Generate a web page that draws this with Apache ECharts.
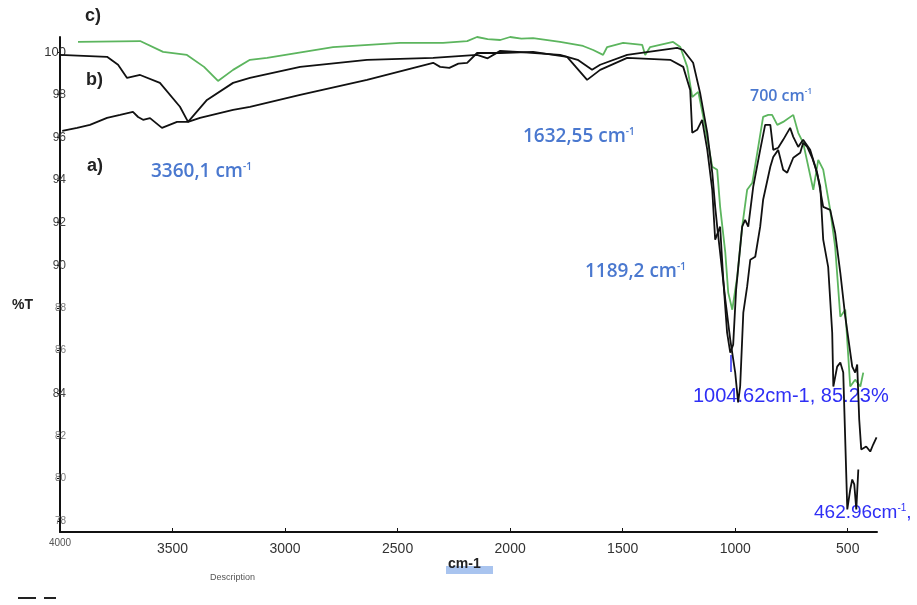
<!DOCTYPE html>
<html>
<head>
<meta charset="utf-8">
<script src="https://cdn.jsdelivr.net/npm/echarts@6/dist/echarts.min.js"></script>
<style>html,body{margin:0;padding:0;background:#fff}#chart{width:917px;height:605px}</style>
</head>
<body>
<div id="chart"></div>
<script>
// ---- data (wavenumber cm-1, %T) ----
const xTicks = [4000, 3500, 3000, 2500, 2000, 1500, 1000, 500];
const yTicks = [78, 80, 82, 84, 86, 88, 90, 92, 94, 96, 98, 100];

const wnA = [3990,3924,3867,3791,3733,3676,3653,3631,3600,3547,3480,3431,3378,3231,3156,2933,2636,2342,2311,2270,2230,2191,2147,2044,1898,1747,1658,1600,1480,1289,1231,1200,1191,1169,1147,1124,1102,1089,1067,1053,1036,1022,1009,996,969,956,942,920,889,867,844,831,809,787,756,742,720,698,667,644,622,609,587,569,564,547,533,520,502,489,480,471,462,453];
const tA  = [96.30,96.44,96.58,96.91,97.05,97.19,96.95,96.82,96.9,96.44,96.72,96.72,96.91,97.28,97.43,97.99,98.69,99.49,99.30,99.25,99.45,99.49,99.95,99.95,100,99.77,98.69,99.16,99.72,99.63,99.30,98.22,96.21,96.35,96.82,95.41,93.54,91.20,91.81,89.33,86.84,85.91,86.28,88.86,91.81,92.13,91.81,93.68,95.41,96.58,96.58,95.41,95.51,95.88,96.44,96.02,95.55,95.88,95.41,94.62,93.68,91.20,89.93,86.84,84.32,85.25,85.44,84.97,78.56,79.49,79.96,79.73,78.56,80.43];

const wnB = [4000,3791,3742,3702,3644,3556,3467,3431,3347,3231,3156,2933,2636,2342,2147,2100,2044,1969,1778,1700,1636,1600,1480,1258,1231,1187,1156,1124,1102,1089,1080,1067,1044,1022,1000,987,978,964,947,933,911,889,876,844,831,809,787,769,742,711,698,680,658,636,609,578,556,533,511,480,467,458,449,440,418,400,387,372];
const tB  = [99.86,99.77,99.40,98.78,98.92,98.55,97.43,96.72,97.75,98.55,98.78,99.30,99.63,99.72,99.86,99.7,100.05,100,99.86,99.63,99.16,99.40,99.86,100.19,100.09,99.49,98.08,96.21,94.34,92.74,91.81,90.59,88.39,86.52,84.97,83.57,84.32,87.78,89.00,90.26,90.40,91.81,93.07,94.62,95.08,95.41,94.48,94.34,95.04,95.27,95.74,95.55,95.04,94.34,92.74,92.60,91.53,89.65,87.59,85.25,84.97,85.35,82.77,81.37,81.51,81.27,81.60,81.93];

const wnC = [3920,3644,3542,3436,3360,3298,3231,3156,3080,2787,2489,2298,2191,2147,2100,2044,2000,1950,1898,1778,1676,1631,1587,1569,1498,1413,1400,1378,1276,1244,1213,1191,1164,1142,1102,1080,1067,1044,1031,1013,991,969,947,924,902,876,853,836,813,787,742,720,698,653,631,609,578,556,533,511,489,467,444,431];
const tC  = [100.47,100.51,100.0,99.86,99.3,98.64,99.16,99.63,99.72,100.23,100.42,100.42,100.51,100.7,100.6,100.56,100.7,100.62,100.65,100.47,100.28,100.09,99.86,100.23,100.42,100.33,99.86,100.23,100.47,100.23,99.30,97.89,98.13,96.96,94.62,94.48,92.74,90.59,88.72,87.92,89.47,91.81,93.54,93.87,95.27,96.96,97.05,97.05,96.58,96.72,97.05,96.21,95.74,93.54,94.94,94.48,92.60,90.87,87.59,87.92,84.32,84.64,84.32,84.97];

const zip = (xs, ys) => xs.map((x, i) => [x, ys[i]]);

const chart = echarts.init(document.getElementById('chart'), null, {renderer: 'canvas'});
const blue1 = '#4a78cf';
const blue2 = '#2f2ff5';
const FONT = 'Liberation Sans, Arial, sans-serif';
const OFONT = 'Open Sans, sans-serif';

function sup(main, s, size, color, font, weight, tail) {
  const sm = Math.round(size * 0.5);
  return {
    text: '{m|' + main + '}{s|' + s + '}' + (tail ? '{m|' + tail + '}' : ''),
    verticalAlign: 'middle',
    rich: {
      m: {fontSize: size, fontFamily: font, fontWeight: weight, fill: color},
      s: {fontSize: sm, fontFamily: font, fontWeight: weight, fill: color, verticalAlign: 'top', lineHeight: size}
    }
  };
}

function lbl(x, y, style) { return {type: 'text', x: x, y: y, style: style}; }

const option = {
  animation: false,
  backgroundColor: '#ffffff',
  grid: {left: 60, right: 40, top: 37, bottom: 73},
  xAxis: {
    type: 'value', inverse: true, min: 370, max: 4000,
    axisLine: {show: true, lineStyle: {color: '#111', width: 2}},
    axisTick: {show: true, customValues: xTicks, length: 4, inside: true, lineStyle: {color: '#111'}},
    splitLine: {show: false},
    axisLabel: {
      customValues: xTicks, margin: 6,
      formatter: v => v === 4000 ? '{s|' + v + '}' : '{n|' + v + '}',
      rich: {
        s: {fontSize: 10, color: '#555', fontFamily: FONT},
        n: {fontSize: 14, color: '#333', fontFamily: FONT, padding: [4, 0, 0, 0]}
      }
    }
  },
  yAxis: {
    type: 'value', min: 77.5, max: 100.7,
    axisLine: {show: true, lineStyle: {color: '#111', width: 2}},
    axisTick: {show: true, customValues: yTicks, length: 3, lineStyle: {color: '#111'}},
    splitLine: {show: false},
    axisLabel: {
      customValues: yTicks, margin: -6,
      formatter: v => {
        if (v === 100) return '{b|' + v + '}';
        if (v === 84 || v === 94 || v === 96 || v === 98 || v === 92 || v === 90) return '{m|' + v + '}';
        return '{s|' + v + '}';
      },
      rich: {
        b: {fontSize: 13, color: '#333', fontFamily: FONT},
        m: {fontSize: 12, color: '#444', fontFamily: FONT},
        s: {fontSize: 10, color: '#777', fontFamily: FONT}
      }
    }
  },
  series: [
    {name: 'c)', type: 'line', data: zip(wnC, tC), showSymbol: false, clip: false,
     lineStyle: {color: '#5cb55e', width: 1.8}, z: 3},
    {name: 'b)', type: 'line', data: zip(wnB, tB), showSymbol: false, clip: false,
     lineStyle: {color: '#111', width: 1.8}, z: 4},
    {name: 'a)', type: 'line', data: zip(wnA, tA), showSymbol: false, clip: false,
     lineStyle: {color: '#111', width: 1.8}, z: 4}
  ],
  graphic: [
    lbl(85, 16, {text: 'c)', fontSize: 18, fontWeight: 'bold', fontFamily: FONT, fill: '#222', verticalAlign: 'middle'}),
    lbl(86, 80, {text: 'b)', fontSize: 18, fontWeight: 'bold', fontFamily: FONT, fill: '#222', verticalAlign: 'middle'}),
    lbl(87, 166, {text: 'a)', fontSize: 18, fontWeight: 'bold', fontFamily: FONT, fill: '#222', verticalAlign: 'middle'}),
    lbl(151, 172, sup('3360,1 cm', '-1', 19, blue1, OFONT, 600)),
    lbl(523, 137, sup('1632,55 cm', '-1', 19, blue1, OFONT, 600)),
    lbl(750, 96, sup('700 cm', '-1', 16, blue1, OFONT, 600)),
    lbl(585, 272, sup('1189,2 cm', '-1', 19, blue1, OFONT, 600)),
    {type: 'line', shape: {x1: 731, y1: 355, x2: 731, y2: 372}, style: {stroke: blue2, lineWidth: 1.5}},
    lbl(693, 396, {text: '1004.62cm-1, 85.23%', fontSize: 20, fontFamily: FONT, fill: blue2, verticalAlign: 'middle'}),
    lbl(814, 513, sup('462.96cm', '-1', 19, blue2, FONT, 'normal', ',')),
    lbl(12, 305, {text: '%T', fontSize: 14, fontWeight: 'bold', fontFamily: FONT, fill: '#222', verticalAlign: 'middle'}),
    {type: 'rect', shape: {x: 446, y: 566, width: 47, height: 8}, style: {fill: '#a9c4ef'}},
    lbl(448, 564, {text: 'cm-1', fontSize: 14, fontWeight: 'bold', fontFamily: FONT, fill: '#222', verticalAlign: 'middle'}),
    lbl(210, 578, {text: 'Description', fontSize: 9, fontFamily: FONT, fill: '#555', verticalAlign: 'middle'}),
    {type: 'line', shape: {x1: 18, y1: 598, x2: 36, y2: 598}, style: {stroke: '#222', lineWidth: 2}},
    {type: 'line', shape: {x1: 44, y1: 598, x2: 56, y2: 598}, style: {stroke: '#222', lineWidth: 2}}
  ]
};
chart.setOption(option);
</script>
</body>
</html>
